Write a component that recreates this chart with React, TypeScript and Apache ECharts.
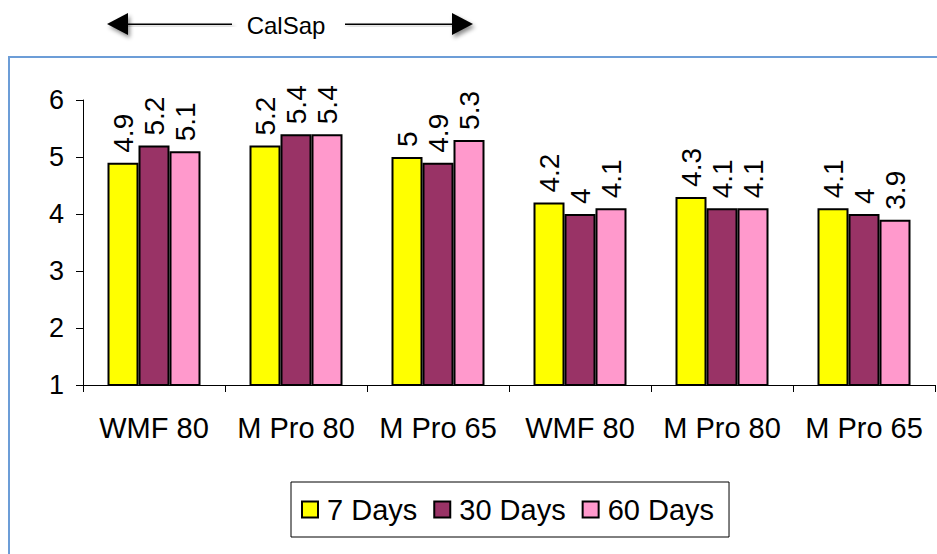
import React, { useEffect, useRef } from "react";
import * as echarts from "echarts";

const categories = ["WMF 80", "M Pro 80", "M Pro 65", "WMF 80", "M Pro 80", "M Pro 65"];
const seriesNames = ["7 Days", "30 Days", "60 Days"];
const days7 = [4.9, 5.2, 5.0, 4.2, 4.3, 4.1];
const days30 = [5.2, 5.4, 4.9, 4.0, 4.1, 4.0];
const days60 = [5.1, 5.4, 5.3, 4.1, 4.1, 3.9];
const yTicks = { min: 1, max: 6, interval: 1 };
const colors = ["#ffff00", "#993366", "#ff99cc"];
const headerText = "CalSap";

const FONT = "'Liberation Sans', Arial, sans-serif";

export default function App() {
  const ref = useRef<HTMLDivElement>(null);

  useEffect(() => {
    if (!ref.current) return;
    const chart = echarts.init(ref.current, null, { renderer: "svg" });
    const values = [days7, days30, days60];

    const shadow = {
      shadowBlur: 4,
      shadowColor: "rgba(0,0,0,0.45)",
      shadowOffsetX: 2,
      shadowOffsetY: 3,
    };

    chart.setOption({
      animation: false,
      backgroundColor: "#ffffff",
      textStyle: { fontFamily: FONT },
      grid: { left: 83, right: 2, top: 100, bottom: 169 },
      legend: {
        data: seriesNames,
        left: 291,
        top: 482,
        orient: "horizontal",
        icon: "rect",
        itemWidth: 16,
        itemHeight: 16,
        itemGap: 16,
        padding: [10, 15, 10, 10],
        borderColor: "#000000",
        borderWidth: 1,
        textStyle: {
          fontFamily: FONT,
          fontSize: 29,
          color: "#000000",
          lineHeight: 35,
          padding: [0, 0, 0, 4],
        },
      },
      xAxis: {
        type: "category",
        data: categories,
        axisLine: { show: true, lineStyle: { color: "#000000", width: 1 } },
        axisTick: { show: true, length: 7, lineStyle: { color: "#000000" } },
        axisLabel: {
          color: "#000000",
          fontFamily: FONT,
          fontSize: 29,
          margin: 28,
          interval: 0,
        },
        splitLine: { show: false },
      },
      yAxis: {
        type: "value",
        min: yTicks.min,
        max: yTicks.max,
        interval: yTicks.interval,
        axisLine: { show: true, lineStyle: { color: "#000000", width: 1 } },
        axisTick: { show: true, length: 7, lineStyle: { color: "#000000" } },
        axisLabel: {
          color: "#000000",
          fontFamily: FONT,
          fontSize: 27,
          margin: 19,
        },
        splitLine: { show: false },
      },
      series: seriesNames.map((name, i) => ({
        name,
        type: "bar",
        data: values[i],
        barWidth: 31,
        barGap: "0%",
        itemStyle: { color: colors[i], borderColor: "#000000", borderWidth: 2 },
        label: {
          show: true,
          position: "top",
          rotate: 90,
          align: "left",
          verticalAlign: "middle",
          distance: 10,
          fontFamily: FONT,
          fontSize: 28,
          color: "#000000",
          formatter: (p: any) => String(p.value),
        },
      })),
      graphic: [
        {
          type: "rect",
          shape: { x: 9, y: 57, width: 1000, height: 600 },
          style: { fill: "none", stroke: "#6c9dd7", lineWidth: 2 },
          silent: true,
        },
        // arrow shafts (thin rects so the drop shadow has a non-empty box)
        {
          type: "rect",
          shape: { x: 124, y: 23.5, width: 108, height: 1.5 },
          style: { fill: "#000000", ...shadow },
        },
        {
          type: "rect",
          shape: { x: 345, y: 23.5, width: 110, height: 1.5 },
          style: { fill: "#000000", ...shadow },
        },
        {
          type: "polygon",
          shape: { points: [[107, 24], [128, 13], [128, 35]] },
          style: { fill: "#000000", ...shadow },
        },
        {
          type: "polygon",
          shape: { points: [[473, 24], [452, 13], [452, 35]] },
          style: { fill: "#000000", ...shadow },
        },
        {
          type: "text",
          x: 286,
          y: 25,
          style: {
            text: headerText,
            fontFamily: FONT,
            fontSize: 24,
            fill: "#000000",
            align: "center",
            verticalAlign: "middle",
          },
        },
      ],
    });

    return () => chart.dispose();
  }, []);

  return (
    <div
      ref={ref}
      style={{ position: "fixed", left: 0, top: 0, width: 937, height: 554 }}
    />
  );
}
